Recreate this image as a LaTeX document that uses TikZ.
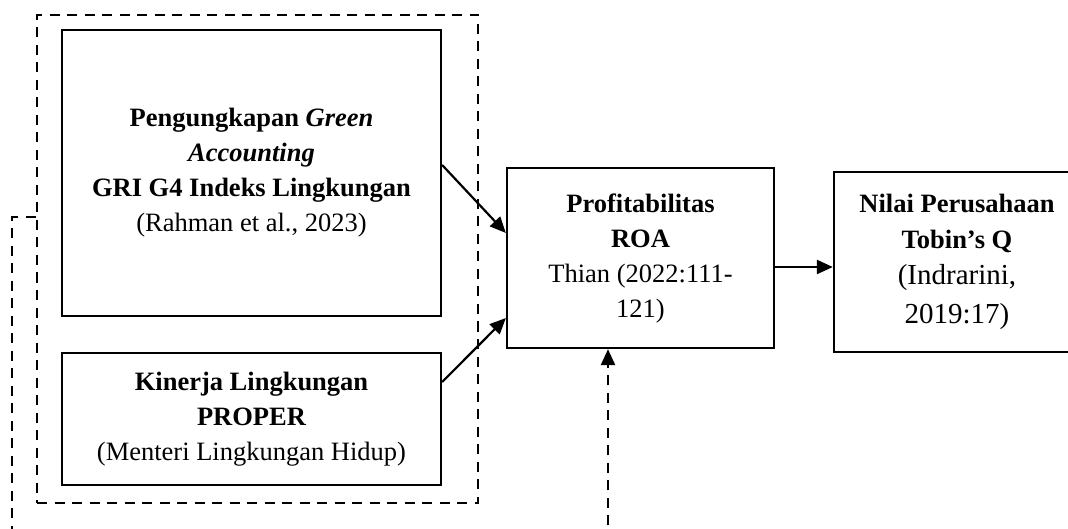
\documentclass[tikz,border=0pt]{standalone}
\usepackage{fontspec}
\setmainfont{Liberation Serif}
\usetikzlibrary{arrows.meta}
\begin{document}
\begin{tikzpicture}[x=1pt,y=-1pt,
  box/.style={draw, line width=2.3pt, inner sep=0pt, align=center,
    font=\fontsize{26.5}{35}\selectfont},
  grpbox/.style={draw, line width=2.5pt, dash pattern=on 10pt off 7.5pt, inner sep=0pt},
  arr/.style={line width=2.2pt, -{Triangle[length=16pt,width=14pt]}},
  darr/.style={line width=2.5pt, dash pattern=on 10pt off 7.5pt, -{Triangle[length=16pt,width=14pt]}}]
\useasboundingbox (0,0) rectangle (1068,529);
\clip (0,0) rectangle (1068,529);

\node[grpbox, minimum width=441pt, minimum height=488pt] (grp) at (257.5,259) {};

\node[box, minimum width=379pt, minimum height=286pt] (gac) at (251.5,173)
  {\bfseries Pengungkapan \textit{Green}\\\bfseries\itshape Accounting\\\bfseries GRI G4 Indeks Lingkungan\\(Rahman et al., 2023)};

\node[box, minimum width=379pt, minimum height=132pt] (kin) at (251.5,419)
  {\bfseries Kinerja Lingkungan\\\bfseries PROPER\\(Menteri Lingkungan Hidup)};

\node[box, minimum width=267pt, minimum height=180pt] (prof) at (640.5,258)
  {\bfseries Profitabilitas\\\bfseries ROA\\Thian (2022:111-\\121)};

\node[box, minimum width=246pt, minimum height=180pt, font=\fontsize{26.5}{36}\selectfont] (nilai) at (957,262)
  {\bfseries Nilai Perusahaan\\\bfseries Tobin’s Q\\\fontsize{29}{36}\selectfont (Indrarini,\\[3pt]\fontsize{29}{36}\selectfont 2019:17)};

\draw[arr] ([yshift=8pt]gac.east) -- ([yshift=25pt]prof.west);
\draw[arr] ([yshift=37pt]kin.east) -- ([yshift=-60pt]prof.west);
\draw[arr] ([yshift=-9pt]prof.east) -- ([yshift=-9pt]prof.east -| nilai.west);

\coordinate (lt) at (12,217);
\coordinate (lb) at (12,560);
\coordinate (rb) at (608,560);
\draw[darr] ([yshift=42pt]grp.west) -- (lt) -- (lb) -- (rb) -- (rb |- prof.south);
\end{tikzpicture}
\end{document}
